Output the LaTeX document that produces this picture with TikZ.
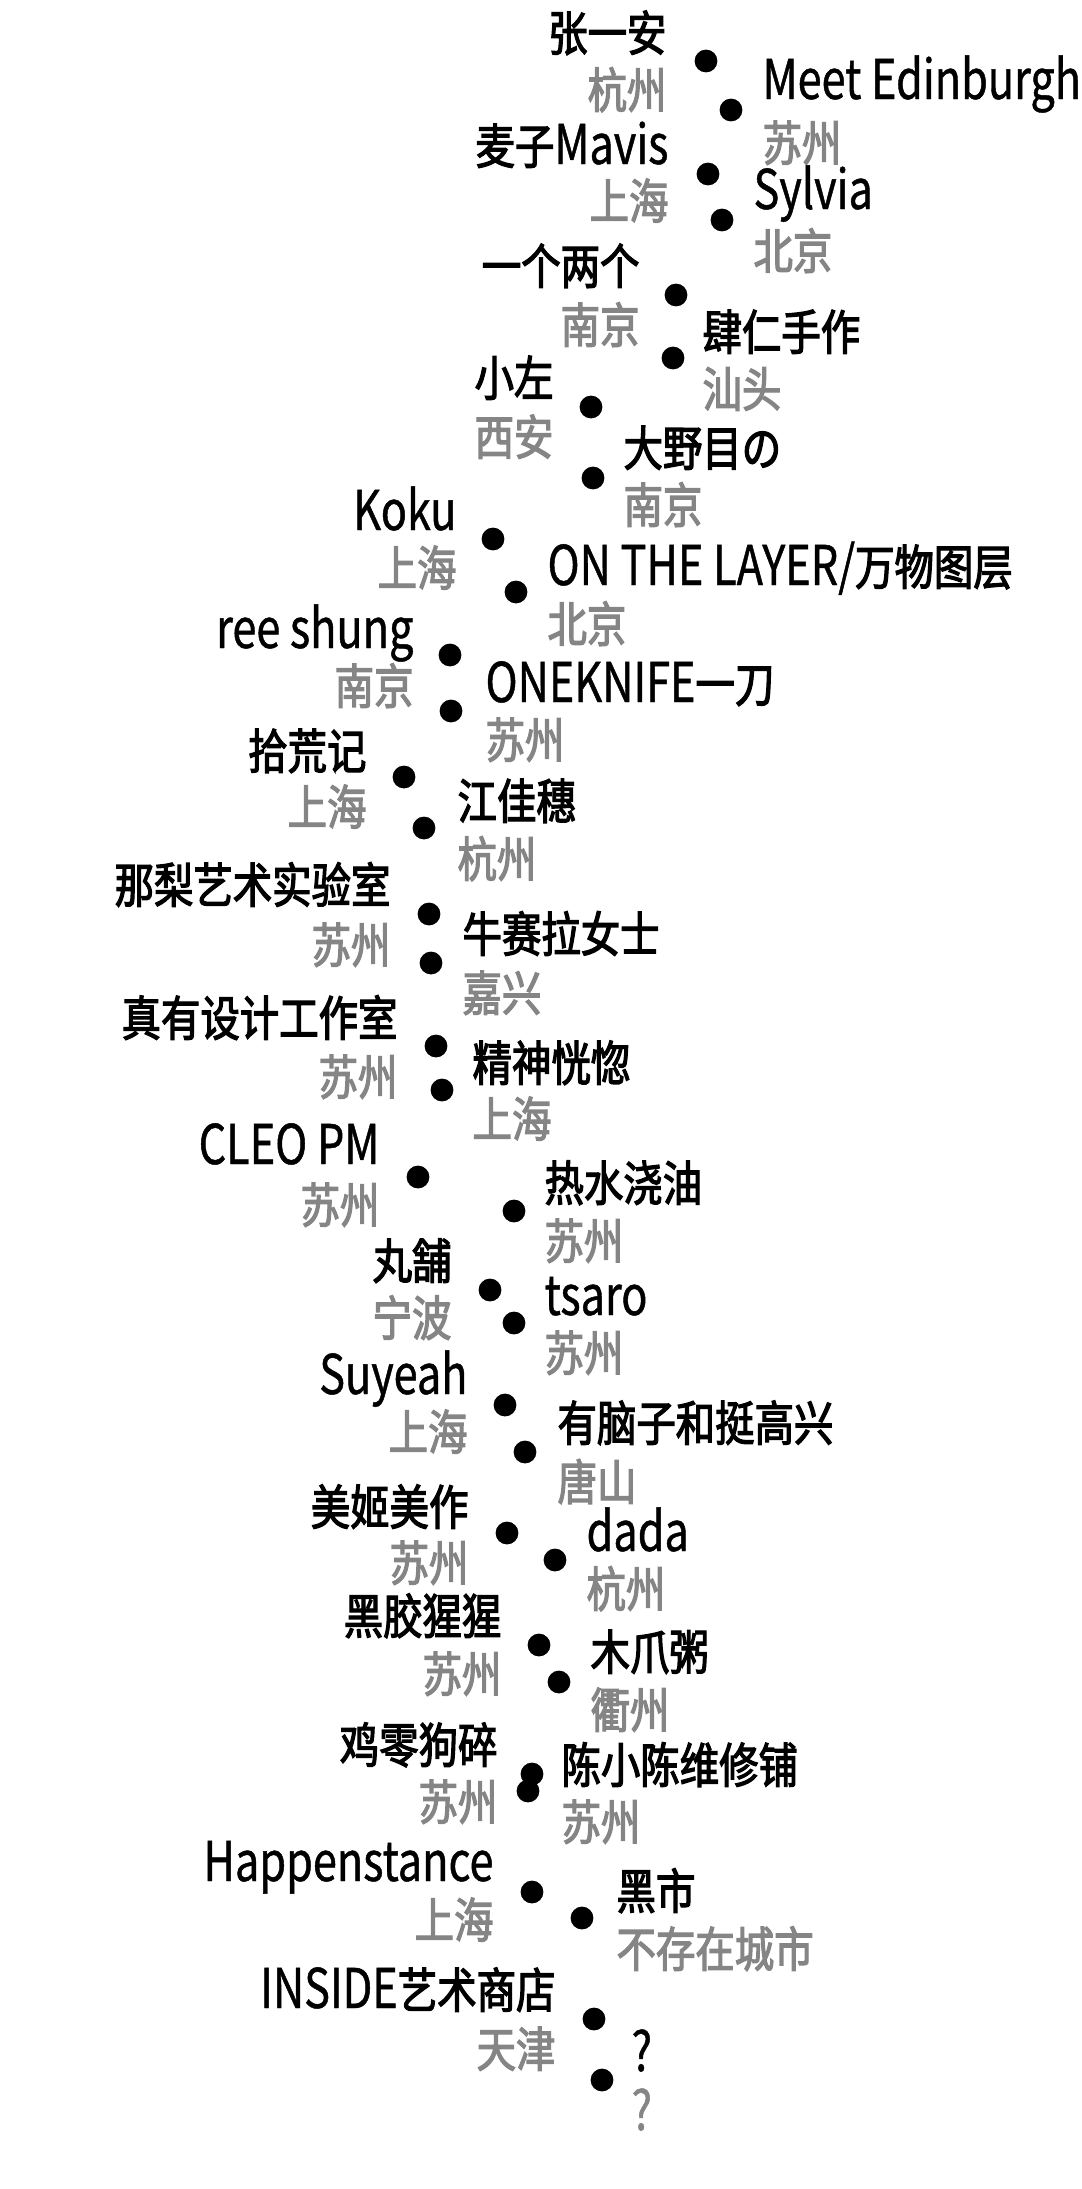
\documentclass[tikz,border=0pt]{standalone}
\usepackage{fontspec}
\newfontfamily\cjkf[FakeStretch=0.82,FakeBold=2.5]{Noto Sans CJK SC}
\newfontfamily\latf[FakeStretch=0.79,FakeBold=0.8]{Noto Sans CJK SC}
\newcommand\lt[1]{{\latf\fontsize{19.7}{22}\selectfont #1}}
\definecolor{cityg}{RGB}{133,133,133}
\tikzset{
  dot/.style={circle, fill=black, inner sep=0pt, minimum size=8.2pt},
  lbl/.style={inner sep=0pt, font=\cjkf\fontsize{17.3}{20}\selectfont},
  nameL/.style={lbl, anchor=base east, text=black},
  cityL/.style={lbl, anchor=base east, text=cityg},
  nameR/.style={lbl, anchor=base west, text=black},
  cityR/.style={lbl, anchor=base west, text=cityg}
}
% id, dotX, dotY, textX, nameY, cityY, name, city
\newcommand\Lentry[8]{%
  \node[dot] (d#1) at (#2+5,#3) {};
  \node[nameL] (n#1) at (#4+2,#5+19) {#7};
  \node[cityL] (c#1) at (#4+2,#6+19) {#8};
}
\newcommand\Rentry[8]{%
  \node[dot] (d#1) at (#2+5,#3) {};
  \node[nameR] (n#1) at (#4+5,#5+19) {#7};
  \node[cityR] (c#1) at (#4+5,#6+19) {#8};
}
\begin{document}
\begin{tikzpicture}[x=0.36pt,y=-0.36pt]
\useasboundingbox (0,0) rectangle (1081,2189);
\Lentry{1}{701}{61}{665}{32}{89}{张一安}{杭州}
\Rentry{2}{726}{110}{757}{80}{142}{\lt{Meet Edinburgh}}{苏州}
\Lentry{3}{703}{174}{667}{145}{200}{麦子\lt{Mavis}}{上海}
\Rentry{4}{717}{220}{748}{190}{250}{\lt{Sylvia}}{北京}
\Lentry{5}{671}{295}{638}{265}{324}{一个两个}{南京}
\Rentry{6}{668}{358}{697}{331}{388}{肆仁手作}{汕头}
\Lentry{7}{586}{407}{552}{377}{436}{小左}{西安}
\Rentry{8}{588}{478}{618}{447}{504}{大野目の}{南京}
\Lentry{9}{488}{539}{455}{511}{567}{\lt{Koku}}{上海}
\Rentry{10}{511}{592}{542}{566}{623}{\lt{ON THE LAYER/}万物图层}{北京}
\Lentry{11}{445}{655}{412}{629}{685}{\lt{ree shung}}{南京}
\Rentry{12}{446}{711}{480}{683}{739}{\lt{ONEKNIFE}一刀}{苏州}
\Lentry{13}{399}{777}{365}{750}{806}{拾荒记}{上海}
\Rentry{14}{419}{828}{452}{800}{858}{江佳穗}{杭州}
\Lentry{15}{424}{914}{389}{884}{944}{那梨艺术实验室}{苏州}
\Rentry{16}{426}{963}{457}{933}{992}{牛赛拉女士}{嘉兴}
\Lentry{17}{431}{1046}{396}{1017}{1076}{真有设计工作室}{苏州}
\Rentry{18}{437}{1090}{467}{1062}{1118}{精神恍惚}{上海}
\Lentry{19}{413}{1177}{378}{1145}{1204}{\lt{CLEO PM}}{苏州}
\Rentry{20}{509}{1211}{539}{1182}{1240}{热水浇油}{苏州}
\Lentry{21}{485}{1290}{450}{1260}{1317}{丸舗}{宁波}
\Rentry{22}{509}{1323}{539}{1296}{1352}{\lt{tsaro}}{苏州}
\Lentry{23}{500}{1405}{466}{1375}{1431}{\lt{Suyeah}}{上海}
\Rentry{24}{520}{1452}{552}{1422}{1481}{有脑子和挺高兴}{唐山}
\Lentry{25}{502}{1533}{467}{1506}{1562}{美姬美作}{苏州}
\Rentry{26}{550}{1560}{581}{1532}{1588}{\lt{dada}}{杭州}
\Lentry{27}{534}{1645}{500}{1615}{1673}{黑胶猩猩}{苏州}
\Rentry{28}{554}{1682}{585}{1651}{1709}{木爪粥}{衢州}
\Lentry{29}{527}{1774}{496}{1744}{1801}{鸡零狗碎}{苏州}
\Rentry{30}{523}{1791}{556}{1764}{1821}{陈小陈维修铺}{苏州}
\Lentry{31}{527}{1892}{492}{1862}{1919}{\lt{Happenstance}}{上海}
\Rentry{32}{577}{1918}{611}{1890}{1948}{黑市}{不存在城市}
\Lentry{33}{589}{2019}{554}{1989}{2048}{\lt{INSIDE}艺术商店}{天津}
\Rentry{34}{597}{2080}{626}{2052}{2111}{\lt{?}}{\lt{?}}
\end{tikzpicture}
\end{document}
